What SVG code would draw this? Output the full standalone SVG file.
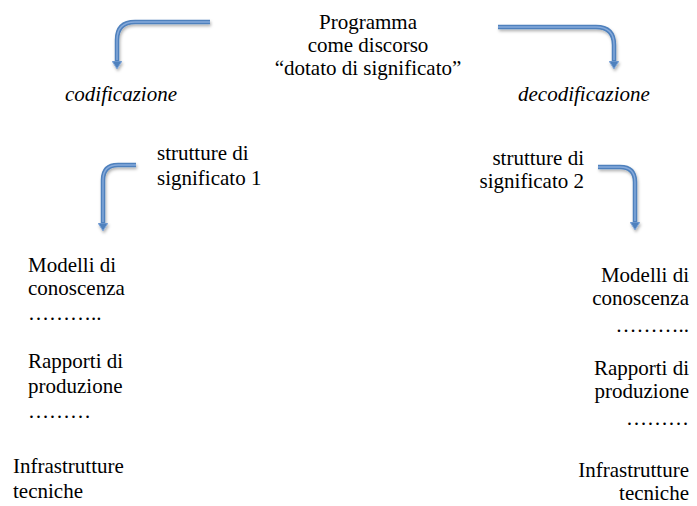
<svg xmlns="http://www.w3.org/2000/svg" width="697" height="506" viewBox="0 0 697 506">
<style>
text{font-family:"Liberation Serif","Times New Roman",serif;font-size:21px;fill:#000}
.it{font-style:italic}
.e{text-anchor:end}
.m{text-anchor:middle}
.a{fill:none;stroke:#4f81bd;stroke-width:4.5;stroke-linecap:butt}
.ai{fill:none;stroke:#86aadb;stroke-width:1.4}
</style>
<defs>
<filter id="sh" x="-20%" y="-20%" width="140%" height="140%">
<feDropShadow dx="1" dy="2" stdDeviation="1.5" flood-color="#000" flood-opacity="0.3"/>
</filter>
<marker id="ah" markerUnits="userSpaceOnUse" markerWidth="12" markerHeight="10" refX="0" refY="5" orient="auto">
<path d="M0,0 L8,5 L0,10 Z" fill="#4f81bd" stroke="#86aadb" stroke-width="1"/>
</marker>
</defs>
<rect width="697" height="506" fill="#fff"/>
<g id="connectors" filter="url(#sh)">
<path class="a" d="M210,22 H135 Q117,22 117,40 V61" marker-end="url(#ah)"/>
<path class="ai" d="M210,22 H135 Q117,22 117,40 V60"/>
<path class="a" d="M498,27 H596 Q614,27 614,45 V61" marker-end="url(#ah)"/>
<path class="ai" d="M498,27 H596 Q614,27 614,45 V60"/>
<path class="a" d="M136,165 H118 Q103,165 103,180 V223" marker-end="url(#ah)"/>
<path class="ai" d="M136,165 H118 Q103,165 103,180 V222"/>
<path class="a" d="M598,167 H620 Q635,167 635,182 V222" marker-end="url(#ah)"/>
<path class="ai" d="M598,167 H620 Q635,167 635,182 V221"/>
</g>
<g id="programma">
<text class="m" x="368" y="29">Programma</text>
<text class="m" x="368" y="52">come discorso</text>
<text class="m" x="368" y="75">“dotato di significato”</text>
</g>
<g id="codificazione"><text class="it" x="65" y="101">codificazione</text></g>
<g id="decodificazione"><text class="it" x="518" y="101">decodificazione</text></g>
<g id="strutture1">
<text x="157" y="160">strutture di</text>
<text x="157" y="185">significato 1</text>
</g>
<g id="strutture2">
<text class="e" x="584" y="165">strutture di</text>
<text class="e" x="584" y="188">significato 2</text>
</g>
<g id="left-stack">
<text x="28" y="272">Modelli di</text>
<text x="28" y="295">conoscenza</text>
<text x="28" y="320">………..</text>
<text x="28" y="368">Rapporti di</text>
<text x="28" y="393">produzione</text>
<text x="28" y="418">………</text>
<text x="13" y="473">Infrastrutture</text>
<text x="13" y="498">tecniche</text>
</g>
<g id="right-stack">
<text class="e" x="689" y="282">Modelli di</text>
<text class="e" x="689" y="305">conoscenza</text>
<text class="e" x="689" y="332">………..</text>
<text class="e" x="689" y="375">Rapporti di</text>
<text class="e" x="689" y="398">produzione</text>
<text class="e" x="689" y="425">………</text>
<text class="e" x="689" y="477">Infrastrutture</text>
<text class="e" x="689" y="500">tecniche</text>
</g>
</svg>
